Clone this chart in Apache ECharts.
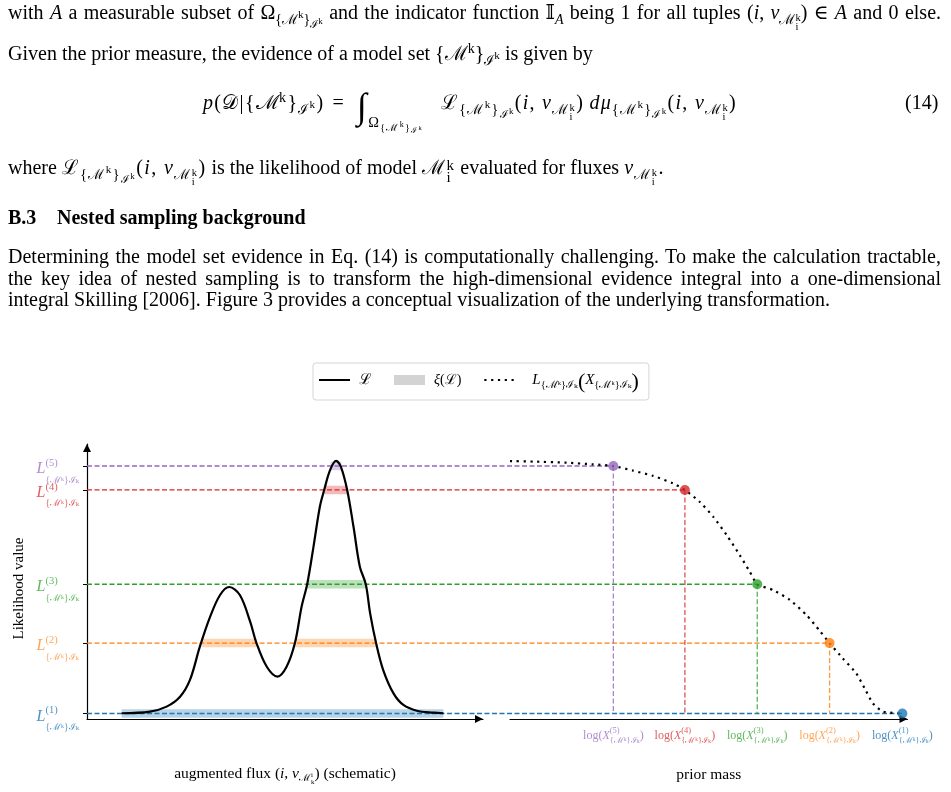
<!DOCTYPE html>
<html><head><meta charset="utf-8">
<script src="https://cdn.jsdelivr.net/npm/echarts@6/dist/echarts.min.js"></script>
<style>
html,body{margin:0;padding:0;background:#fff;width:951px;height:792px;overflow:hidden}
#chart{position:absolute;left:0;top:0;width:951px;height:792px}
.ln{position:absolute;white-space:nowrap;font-family:'Liberation Serif','DejaVu Serif',serif;font-size:20px;line-height:22px;color:#000;z-index:2}
.ln sub,.ln sup{font-size:0.7em;line-height:0}
.ln sub sub,.ln sub sup{font-size:0.8em}
.ln sub{vertical-align:-0.35em}
.ln sup{vertical-align:0.5em}
.st{display:inline-block;vertical-align:-0.55em;font-size:0.75em;line-height:0.85}
.st>span{display:block}
.j{width:933px;text-align:justify;text-align-last:justify}
.eq{letter-spacing:1.3px}
.m{letter-spacing:1.4px}
.int{font-size:36px;vertical-align:-9px;line-height:0;margin-left:4px}
.lo{display:inline-block;font-size:0.72em;vertical-align:-1.25em;line-height:0}
.hd{font-weight:bold;font-size:20px}
</style></head>
<body>
<div class="ln j" style="left:8px;top:1px">with <i>A</i> a measurable subset of Ω<sub>{ℳ<sup>k</sup>}<sub>ℐ<sup>k</sup></sub></sub> and the indicator function 𝕀<sub><i>A</i></sub> being 1 for all tuples (<i>i</i>, <i>v</i><sub>ℳ<span class="st"><span>k</span><span>i</span></span></sub>) ∈ <i>A</i> and 0 else.</div>
<div class="ln" style="left:8px;top:42px">Given the prior measure, the evidence of a model set {ℳ<sup>k</sup>}<sub>ℐ<sup>k</sup></sub> is given by</div>
<div class="ln eq" style="left:203px;top:91px"><i>p</i>(𝒟|{ℳ<sup>k</sup>}<sub>ℐ<sup>k</sup></sub>)<span style="margin:0 8px">=</span><span class="int">∫</span><span class="lo">Ω<sub>{ℳ<sup>k</sup>}<sub>ℐ<sup>k</sup></sub></sub></span><span style="display:inline-block;width:18px"></span>ℒ<sub>{ℳ<sup>k</sup>}<sub>ℐ<sup>k</sup></sub></sub>(<i>i</i>, <i>v</i><sub>ℳ<span class="st"><span>k</span><span>i</span></span></sub>)&thinsp;<i>dμ</i><sub>{ℳ<sup>k</sup>}<sub>ℐ<sup>k</sup></sub></sub>(<i>i</i>, <i>v</i><sub>ℳ<span class="st"><span>k</span><span>i</span></span></sub>)</div>
<div class="ln" style="left:905px;top:91px">(14)</div>
<div class="ln" style="left:8px;top:156px">where <span class="m">ℒ<sub>{ℳ<sup>k</sup>}<sub>ℐ<sup>k</sup></sub></sub>(<i>i</i>, <i>v</i><sub>ℳ<span class="st"><span>k</span><span>i</span></span></sub>)</span> is the likelihood of model <span class="m">ℳ<span class="st"><span>k</span><span>i</span></span></span> evaluated for fluxes <span class="m"><i>v</i><sub>ℳ<span class="st"><span>k</span><span>i</span></span></sub></span>.</div>
<div class="ln hd" style="left:8px;top:206px">B.3</div>
<div class="ln hd" style="left:57px;top:206px">Nested sampling background</div>
<div class="ln j" style="left:8px;top:245px">Determining the model set evidence in Eq. (14) is computationally challenging. To make the calculation tractable,</div>
<div class="ln j" style="left:8px;top:267px">the key idea of nested sampling is to transform the high-dimensional evidence integral into a one-dimensional</div>
<div class="ln" style="left:8px;top:288px">integral Skilling [2006]. Figure 3 provides a conceptual visualization of the underlying transformation.</div>
<div id="chart"></div>
<script>
// ---- data ----
const levelTags = ['(1)', '(2)', '(3)', '(4)', '(5)'];
const levels = [0.02, 0.276, 0.49, 0.833, 0.92];
const levelColors = ['#1f77b4', '#ff7f0e', '#2ca02c', '#d62728', '#9467bd'];
const labelColors = ['rgba(31,119,180,0.8)', 'rgba(255,127,14,0.7)', 'rgba(44,160,44,0.75)', 'rgba(214,39,40,0.75)', 'rgba(148,103,189,0.75)'];
const markerX = [9.87, 8.04, 6.22, 4.40, 2.60];
const fluxX = [0.875,1.59,2.01,2.35,2.60,2.85,3.11,3.36,3.59,3.86,4.12,4.28,4.54,4.81,5.04,5.25,5.42,5.56,5.72,5.88,5.99,6.14,6.29,6.41,6.57,6.73,6.89,7.04,7.15,7.30,7.48,7.74,7.99,8.33,8.75,9.00];
const likelihoodY = [0.021,0.027,0.045,0.081,0.142,0.263,0.372,0.451,0.480,0.451,0.354,0.276,0.190,0.154,0.190,0.276,0.409,0.490,0.627,0.772,0.833,0.906,0.939,0.918,0.833,0.699,0.554,0.490,0.384,0.276,0.178,0.093,0.051,0.030,0.023,0.021];
const priorMassX = [0,0.59,1.42,2.09,2.60,3.10,3.60,4.10,4.40,4.77,5.11,5.45,5.78,6.03,6.22,6.62,7.04,7.46,7.79,8.04,8.37,8.71,8.92,9.13,9.38,9.87];
const priorCurveY = [0.938,0.936,0.932,0.926,0.92,0.903,0.884,0.857,0.833,0.790,0.736,0.669,0.596,0.536,0.49,0.469,0.433,0.378,0.321,0.276,0.221,0.166,0.112,0.057,0.027,0.02];
const bandStart = [[0.875], [2.90, 5.25], [5.56], [5.99], [6.15]];
const bandEnd = [[9.0], [4.28, 7.30], [7.04], [6.57], [6.42]];
const leftAxisInPriorUnits = -10.64;

const FF = "'Liberation Serif','DejaVu Serif',serif";
const SUB = '{ℳᵏ}ℐₖ';

function idxOf(arr, v) { let b = 0; arr.forEach((a, i) => { if (Math.abs(a - v) < Math.abs(arr[b] - v)) b = i; }); return b; }

const yRich = {};
const xRich = {};
levelColors.forEach((c, i) => {
  yRich['L' + i] = {fontFamily: FF, fontStyle: 'italic', fontSize: 16, lineHeight: 16, padding: [0, 0, 22, 0], align: 'left', color: labelColors[i]};
  yRich['p' + i] = {fontFamily: FF, fontSize: 10.5, lineHeight: 10, padding: [0, 0, 34, 0], width: 0, align: 'left', color: labelColors[i]};
  xRich['n' + i] = {fontFamily: FF, fontSize: 12, lineHeight: 12, padding: [0, 0, 11, 0], align: 'left', color: labelColors[i]};
  xRich['x' + i] = {fontFamily: FF, fontStyle: 'italic', fontSize: 12, lineHeight: 12, padding: [0, 0, 11, 0], align: 'left', color: labelColors[i]};
  xRich['p' + i] = {fontFamily: FF, fontSize: 8.5, lineHeight: 8, padding: [0, 0, 20, 0], width: 0, align: 'left', color: labelColors[i]};
});

const series = [];
bandStart.forEach((starts, i) => starts.forEach((s, j) => {
  series.push({type: 'line', name: 'ξ(ℒ)', xAxisIndex: 0, yAxisIndex: 0,
    data: [[s, levels[i]], [bandEnd[i][j], levels[i]]], symbol: 'none', silent: true,
    lineStyle: {color: levelColors[i], width: 8.5, opacity: 0.32, cap: 'butt'},
    itemStyle: {color: levelColors[i]}, z: 1});
}));
levels.forEach((l, i) => {
  series.push({type: 'line', xAxisIndex: 2, yAxisIndex: 2, silent: true,
    data: [[leftAxisInPriorUnits, l], [markerX[i], l]], symbol: 'none',
    lineStyle: {color: levelColors[i], width: 1.3, type: [5, 2.5]}, z: 2});
  if (i > 0) series.push({type: 'line', xAxisIndex: 1, yAxisIndex: 1, silent: true,
    data: [[markerX[i], l], [markerX[i], levels[0]]], symbol: 'none',
    lineStyle: {color: levelColors[i], width: 1.3, type: [5, 2.5], opacity: 0.8}, z: 2});
});
series.push({type: 'line', name: 'ℒ', xAxisIndex: 0, yAxisIndex: 0,
  data: fluxX.map((x, k) => [x, likelihoodY[k]]), smooth: 0.35, symbol: 'none',
  lineStyle: {color: '#000', width: 2.2}, itemStyle: {color: '#000'}, z: 5});
series.push({type: 'line', name: 'Lx', xAxisIndex: 1, yAxisIndex: 1,
  data: priorMassX.map((x, k) => [x, priorCurveY[k]]), smooth: 0.2, symbol: 'none',
  lineStyle: {color: '#000', width: 2.2, type: [2.2, 4.6]}, itemStyle: {color: '#000'}, z: 4});
series.push({type: 'scatter', xAxisIndex: 1, yAxisIndex: 1, symbolSize: 10, z: 6,
  data: markerX.map((x, i) => ({value: [x, levels[i]], itemStyle: {color: levelColors[i]}}))});

const axisLine = (sym) => ({show: true, symbol: sym, symbolSize: [8, 8], symbolOffset: [0, -4], lineStyle: {color: '#000', width: 1.2}});
const yLabel = (vals) => ({customValues: vals, margin: 8, hideOverlap: false, showMinLabel: true, showMaxLabel: true,
  fontFamily: FF, fontSize: 9.5, lineHeight: 10, padding: [28, 0, 0, 0],
  color: (v) => labelColors[idxOf(levels, v)],
  formatter: (v) => { const i = idxOf(levels, v); return '{L' + i + '|L}{p' + i + '|' + levelTags[i] + '}' + SUB; },
  rich: yRich});

const option = {
  animation: false,
  grid: [
    {left: 87, top: 444, width: 396, height: 275},
    {left: 510, top: 444, width: 397.5, height: 275},
    {left: 87, top: 444, width: 820.5, height: 275}
  ],
  legend: {
    left: 313, top: 363, padding: [1, 10, 1, 5], itemGap: 22, itemWidth: 31, itemHeight: 10,
    borderColor: '#d5d5d5', borderWidth: 1, borderRadius: 3, selectedMode: false,
    data: [
      {name: 'ℒ', itemStyle: {opacity: 0}},
      {name: 'ξ(ℒ)', icon: 'rect', itemStyle: {color: '#d3d3d3', opacity: 1}},
      {name: 'Lx', itemStyle: {opacity: 0}, textStyle: {padding: [10, 0, 0, 12]}}
    ],
    formatter: (n) => n === 'ℒ' ? '{cal|ℒ}' : n === 'ξ(ℒ)' ? '{xi|ξ}{n|(ℒ)}' : '{it|L}' + SUB + '{bg|(}{it|X}' + SUB + '{bg|)}',
    textStyle: {fontFamily: FF, fontSize: 10.5, lineHeight: 10, color: '#000', padding: [0, 0, 0, 4],
      rich: {
        cal: {fontFamily: FF, fontSize: 15, color: '#000'},
        n: {fontFamily: FF, fontSize: 14, color: '#000'},
        xi: {fontFamily: FF, fontStyle: 'italic', fontSize: 14, color: '#000'},
        it: {fontFamily: FF, fontStyle: 'italic', fontSize: 15, lineHeight: 15, padding: [0, 0, 10, 0], color: '#000'},
        bg: {fontFamily: FF, fontSize: 22, lineHeight: 22, padding: [0, 0, 6, 0], color: '#000'}
      }}
  },
  xAxis: [
    {type: 'value', gridIndex: 0, min: 0, max: 10, axisLine: axisLine(['none', 'triangle']),
     axisTick: {show: false}, axisLabel: {show: false}, splitLine: {show: false},
     name: '{n|augmented flux (}{it|i}{n|, }{it|v}{sb|ℳ}{ss|i}{sk|k}{n|) (schematic)}', nameLocation: 'middle', nameGap: 47,
     nameTextStyle: {fontFamily: FF, fontSize: 15.5, color: '#000',
       rich: {
         n: {fontFamily: FF, fontSize: 15.5, align: 'left'},
         it: {fontFamily: FF, fontStyle: 'italic', fontSize: 15.5, align: 'left'},
         sb: {fontFamily: FF, fontSize: 10, lineHeight: 10, padding: [8, 0, 0, 0], align: 'left'},
         ss: {fontFamily: FF, fontSize: 7, lineHeight: 7, padding: [2, 0, 0, 0], width: 0, align: 'left'},
         sk: {fontFamily: FF, fontSize: 7, lineHeight: 7, padding: [16, 0, 0, 0], align: 'left'}
       }}},
    {type: 'value', gridIndex: 1, min: 0, max: 10, axisLine: axisLine(['none', 'triangle']),
     axisTick: {show: false}, splitLine: {show: false},
     axisLabel: {customValues: markerX, margin: 16, hideOverlap: false, showMinLabel: true, showMaxLabel: true,
       fontFamily: FF, fontSize: 8.5, lineHeight: 8,
       color: (v) => labelColors[idxOf(markerX, v)],
       formatter: (v) => { const i = idxOf(markerX, v); return '{n' + i + '|log(}{x' + i + '|X}{p' + i + '|' + levelTags[i] + '}' + SUB + '{n' + i + '|)}'; },
       rich: xRich},
     name: 'prior mass', nameLocation: 'middle', nameGap: 48,
     nameTextStyle: {fontFamily: FF, fontSize: 15.5, color: '#000'}},
    {type: 'value', gridIndex: 2, min: leftAxisInPriorUnits, max: 10, show: false}
  ],
  yAxis: [
    {type: 'value', gridIndex: 0, min: 0, max: 1, axisLine: axisLine(['none', 'triangle']),
     splitLine: {show: false},
     axisTick: {show: true, customValues: levels, length: 4, lineStyle: {color: '#000', width: 1}},
     axisLabel: yLabel(levels.slice(0, 4)),
     name: 'Likelihood value', nameLocation: 'middle', nameGap: 60,
     nameTextStyle: {fontFamily: FF, fontSize: 15, color: '#000', padding: [0, 14, 0, 0]}},
    {type: 'value', gridIndex: 1, min: 0, max: 1, show: false},
    {type: 'value', gridIndex: 2, min: 0, max: 1, show: false},
    {type: 'value', gridIndex: 0, min: 0, max: 1, position: 'left', offset: 0,
     axisLine: {show: false}, axisTick: {show: false}, splitLine: {show: false},
     axisLabel: yLabel(levels.slice(4))}
  ],
  series: series
};
const chart = echarts.init(document.getElementById('chart'), null, {renderer: 'canvas'});
chart.setOption(option);
</script>
</body></html>
